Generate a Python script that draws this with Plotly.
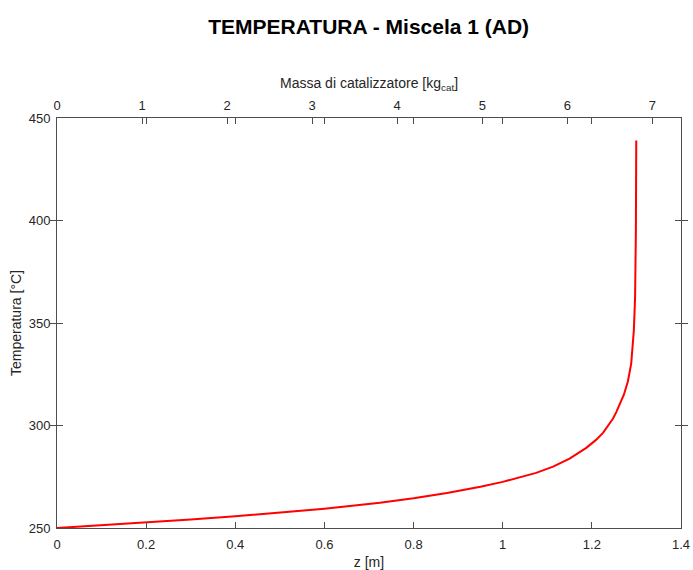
import plotly.graph_objects as go

# Data
z_m = [0, 0.1, 0.2, 0.3, 0.4, 0.5, 0.6, 0.7245, 0.8, 0.875, 0.95, 1.0, 1.038,
       1.075, 1.113, 1.15, 1.1875, 1.21, 1.225, 1.2472, 1.2548, 1.2621, 1.2718,
       1.2808, 1.2883, 1.2942, 1.297, 1.2988, 1.2996]
temp_c = [250, 251.3, 252.7, 254.1, 255.7, 257.4, 259.4, 262.3, 264.5, 267.1,
          270.1, 272.5, 274.6, 276.9, 279.9, 283.8, 289.1, 293.1, 296.4, 303.3,
          306.5, 309.8, 315.0, 321.5, 330.2, 346.4, 362.5, 394.9, 439.0]

z_ticks = [0, 0.2, 0.4, 0.6, 0.8, 1, 1.2, 1.4]
z_labels = ["0", "0.2", "0.4", "0.6", "0.8", "1", "1.2", "1.4"]
mass_ticks = [0, 1, 2, 3, 4, 5, 6, 7]
t_ticks = [250, 300, 350, 400, 450]
mass_range_max = 7.337

axis_col = "#4d4d4d"
txt_col = "#262626"
font_fam = "Liberation Sans, Arial, Helvetica, sans-serif"

fig = go.Figure()
fig.add_trace(go.Scatter(x=z_m, y=temp_c, mode="lines",
                         line=dict(color="#ff0000", width=2),
                         showlegend=False, hoverinfo="skip"))
# empty trace to attach the top (mass) axis
fig.add_trace(go.Scatter(x=mass_ticks, y=[None] * len(mass_ticks), xaxis="x2",
                         mode="lines", showlegend=False, hoverinfo="skip"))

fig.update_layout(
    width=693, height=570,
    margin=dict(l=57, r=12, t=118, b=42, autoexpand=False),
    paper_bgcolor="white", plot_bgcolor="white",
    font=dict(family=font_fam, size=13, color=txt_col),
    title=dict(text="<b>TEMPERATURA - Miscela 1 (AD)</b>",
               x=0.532, xanchor="center", y=1 - 27 / 570, yanchor="middle",
               yref="container", font=dict(size=21, color="black", family=font_fam)),
    xaxis=dict(range=[0, 1.4], tickvals=z_ticks, ticktext=z_labels,
               ticks="inside", ticklen=6, tickcolor=axis_col, tickwidth=1,
               showline=True, linecolor=axis_col, linewidth=1, mirror="allticks",
               showgrid=False, zeroline=False, automargin=False,
               ticklabelstandoff=4,
               title=dict(text="z [m]", standoff=6, font=dict(size=14)),
               tickfont=dict(size=13)),
    xaxis2=dict(range=[0, mass_range_max], tickvals=mass_ticks,
                overlaying="x", side="top", anchor="y",
                ticks="inside", ticklen=6, tickcolor=axis_col, tickwidth=1,
                showline=False, showgrid=False, zeroline=False, automargin=False,
                ticklabelstandoff=4,
                title=dict(text="Massa di catalizzatore [kg<sub>cat</sub>]", standoff=6,
                           font=dict(size=14)),
                tickfont=dict(size=13)),
    yaxis=dict(range=[250, 450], tickvals=t_ticks,
               ticks="inside", ticklen=6, tickcolor=axis_col, tickwidth=1,
               showline=True, linecolor=axis_col, linewidth=1, mirror="allticks",
               showgrid=False, zeroline=False, automargin=False,
               ticklabelstandoff=3,
               title=dict(text="Temperatura [°C]", standoff=3, font=dict(size=14)),
               tickfont=dict(size=13)),
)

fig.write_html("out.html")
